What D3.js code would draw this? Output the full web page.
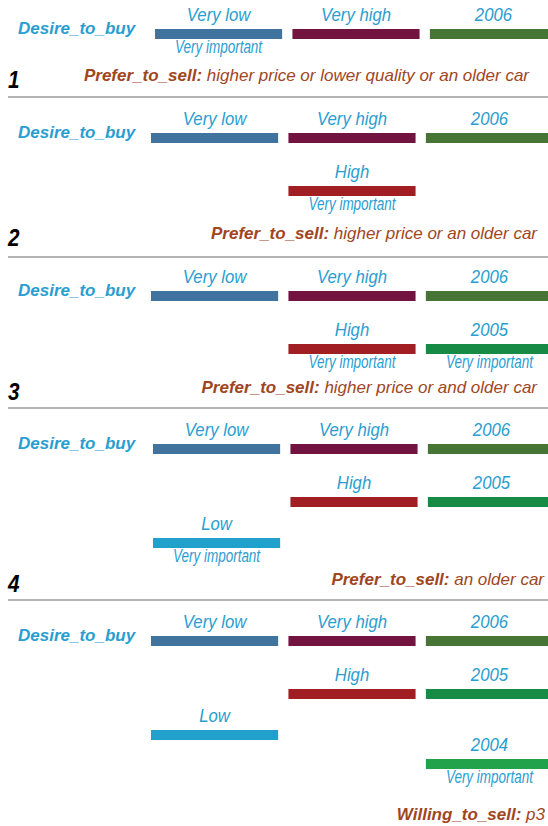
<!DOCTYPE html>
<html>
<head>
<meta charset="utf-8">
<script src="https://cdn.jsdelivr.net/npm/d3@7"></script>
<style>
body { margin: 0; background: #fff; }
text { font-family: "Liberation Sans", Arial, Helvetica, sans-serif; font-style: italic; }
</style>
</head>
<body>
<svg id="chart" width="548" height="826"></svg>
<script>
// states of the three nodes, in the order the steps add them
var stateLabels = ["Very low", "Very high", "2006", "High", "2005", "Low", "2004"];
var stateColumn = [0, 1, 2, 1, 2, 0, 2];
var stateRow    = [0, 0, 0, 1, 1, 2, 3];
var stateColors = ["#41739f", "#731340", "#467535", "#a11e22", "#178a45", "#20a0cb", "#22a34b"];

// one entry per step
var panelNumbers   = ["1", "2", "3", "4", ""];
var panelStates    = [3, 4, 5, 6, 7];      // how many states the step shows
var panelImportant = [["Very low"], ["High"], ["High", "2005"], ["Low"], ["2004"]];
var footerKeys  = ["Prefer_to_sell:", "Prefer_to_sell:", "Prefer_to_sell:", "Prefer_to_sell:", "Willing_to_sell:"];
var footerTexts = ["higher price or lower quality or an older car", "higher price or an older car",
                   "higher price or and older car", "an older car", "p3"];
var rowLabel = "Desire_to_buy";
var importantLabel = "Very important";

// layout
var panelY  = [34, 138, 296, 449, 641];   // centre of the first bar row
var panelDx = [4, 0, 0, 2, 0];
var footerY = [81, 239, 393, 585, 820];
var footerX = [529, 537, 537, 544, 545];
var separatorY = [97, 257, 408, 600];

var blue = "#2a9ed0", rust = "#a0461f";

var svg = d3.select("#chart"),
    width = +svg.attr("width");

var x = d3.scaleBand().domain([0, 1, 2]).range([151, 553]).paddingInner(0.075);
var rowY = d3.scaleOrdinal().domain([0, 1, 2, 3]).range([0, 53, 94, 123]);

var panels = panelStates.map(function (n, i) {
    return {
        i: i,
        number: panelNumbers[i],
        states: d3.range(n).map(function (k) {
            return {label: stateLabels[k], col: stateColumn[k], row: stateRow[k], color: stateColors[k],
                    important: panelImportant[i].indexOf(stateLabels[k]) >= 0};
        })
    };
});

svg.selectAll(".sep")
    .data(separatorY)
    .enter().append("line")
    .attr("class", "sep")
    .attr("x1", 8).attr("x2", width)
    .attr("y1", function (d) { return d; })
    .attr("y2", function (d) { return d; })
    .attr("stroke", "#9a9a9a")
    .attr("stroke-width", 1.5);

var panel = svg.selectAll(".panel")
    .data(panels)
    .enter().append("g")
    .attr("class", "panel");

panel.append("text")
    .attr("x", 18)
    .attr("y", function (d) { return panelY[d.i]; })
    .attr("fill", blue)
    .attr("font-weight", "bold")
    .attr("font-size", 17)
    .text(rowLabel);

var state = panel.selectAll(".state")
    .data(function (d) {
        return d.states.map(function (s) { s.p = d.i; return s; });
    })
    .enter().append("g")
    .attr("class", "state")
    .attr("transform", function (d) {
        return "translate(" + (x(d.col) + panelDx[d.p]) + "," + (panelY[d.p] + rowY(d.row)) + ")";
    });

state.append("rect")
    .attr("x", 0)
    .attr("y", -5)
    .attr("width", x.bandwidth())
    .attr("height", 10)
    .attr("fill", function (d) { return d.color; });

state.append("text")
    .attr("text-anchor", "middle")
    .attr("transform", "translate(" + (x.bandwidth() / 2) + ",-13) scale(0.93,1)")
    .attr("fill", blue)
    .attr("font-size", 18)
    .text(function (d) { return d.label; });

state.filter(function (d) { return d.important; })
    .append("text")
    .attr("text-anchor", "middle")
    .attr("transform", "translate(" + (x.bandwidth() / 2) + ",18.5) scale(0.77,1)")
    .attr("fill", blue)
    .attr("font-size", 17.5)
    .text(importantLabel);

panel.filter(function (d) { return d.number; })
    .append("text")
    .attr("transform", function (d) { return "translate(8," + (footerY[d.i] + 7) + ") scale(0.9,1)"; })
    .attr("fill", "#000")
    .attr("font-weight", "bold")
    .attr("font-size", 23)
    .text(function (d) { return d.number; });

var foot = panel.append("text")
    .attr("x", function (d) { return footerX[d.i]; })
    .attr("y", function (d) { return footerY[d.i]; })
    .attr("text-anchor", "end")
    .attr("fill", rust)
    .attr("font-size", 17);

foot.append("tspan")
    .attr("font-weight", "bold")
    .text(function (d) { return footerKeys[d.i]; });

foot.append("tspan")
    .text(function (d) { return " " + footerTexts[d.i]; });
</script>
</body>
</html>
